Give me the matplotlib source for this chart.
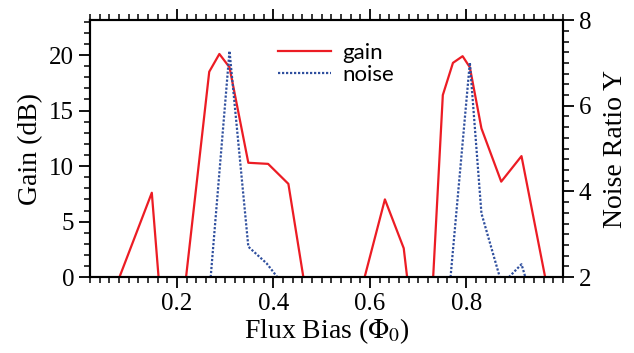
import matplotlib.pyplot as plt
import numpy as np
from matplotlib.ticker import MultipleLocator
from matplotlib.lines import Line2D

# gain curve (dB); NaN separates the broken segments
flux_gain = [0.081, 0.148, 0.162, np.nan,
             0.219, 0.267, 0.288, 0.309, 0.348, 0.389, 0.431, 0.462, np.nan,
             0.589, 0.631, 0.670, 0.677, np.nan,
             0.731, 0.751, 0.772, 0.792, 0.807, 0.831, 0.872, 0.914, 0.963]
gain = [0, 7.6, 0, np.nan,
        0, 18.5, 20.1, 18.9, 10.3, 10.2, 8.4, 0, np.nan,
        0, 7.0, 2.6, 0, np.nan,
        0, 16.4, 19.3, 19.9, 18.9, 13.4, 8.6, 10.9, 0]

# noise ratio Y
flux_noise = [0.270, 0.309, 0.348, 0.386, 0.408, np.nan,
              0.767, 0.807, 0.831, 0.869, np.nan,
              0.888, 0.914, 0.922]
noise = [2, 7.28, 2.71, 2.32, 2, np.nan,
         2, 7.01, 3.49, 2, np.nan,
         2, 2.30, 2]

red = '#ec1c24'
blue = '#2f4f9e'
plt.rcParams['font.family'] = ['Liberation Serif', 'DejaVu Serif']
plt.rcParams['mathtext.fontset'] = 'stix'

fig = plt.figure(figsize=(6.34, 3.53), dpi=100)
ax = fig.add_axes([0.142, 0.215, 0.746, 0.728])
ax2 = ax.twinx()

ax.plot(flux_gain, gain, color=red, lw=1.6)
ax2.plot(flux_noise, noise, color=blue, lw=1.6, ls=(0, (1, 0.8)))

ax.set_xlim(0.02, 1.0)
ax.set_ylim(0, 23.15)
ax2.set_ylim(2, 8)

ax.xaxis.set_major_locator(MultipleLocator(0.2))
ax.xaxis.set_minor_locator(MultipleLocator(0.02))
ax.yaxis.set_major_locator(MultipleLocator(5))
ax.yaxis.set_minor_locator(MultipleLocator(1))
ax2.yaxis.set_major_locator(MultipleLocator(2))
ax2.yaxis.set_minor_locator(MultipleLocator(0.25))
ax.set_xticks([0.2, 0.4, 0.6, 0.8])

for a in (ax, ax2):
    for s in a.spines.values():
        s.set_linewidth(1.5)
    a.tick_params(which='major', length=8, width=1.3, labelsize=18, direction='out')
    a.tick_params(which='minor', length=4, width=1.1, direction='out')
ax.tick_params(axis='x', which='both', top=True)

ax.set_xlabel(r'Flux Bias ($\Phi_0$)', fontsize=20, labelpad=1)
ax.set_ylabel('Gain (dB)', fontsize=20, labelpad=4)
ax2.set_ylabel('Noise Ratio Y', fontsize=20, labelpad=8)

handles = [Line2D([], [], color=red, lw=1.6),
           Line2D([], [], color=blue, lw=1.6, ls=(0, (1, 0.8)))]
ax.legend(handles, ['gain', 'noise'], loc='upper center', bbox_to_anchor=(0.52, 0.99),
          frameon=False, prop={'family': 'Lato', 'size': 16},
          handlelength=2.4, handletextpad=0.5, labelspacing=0.1)

fig.savefig('out.png', dpi=100)
